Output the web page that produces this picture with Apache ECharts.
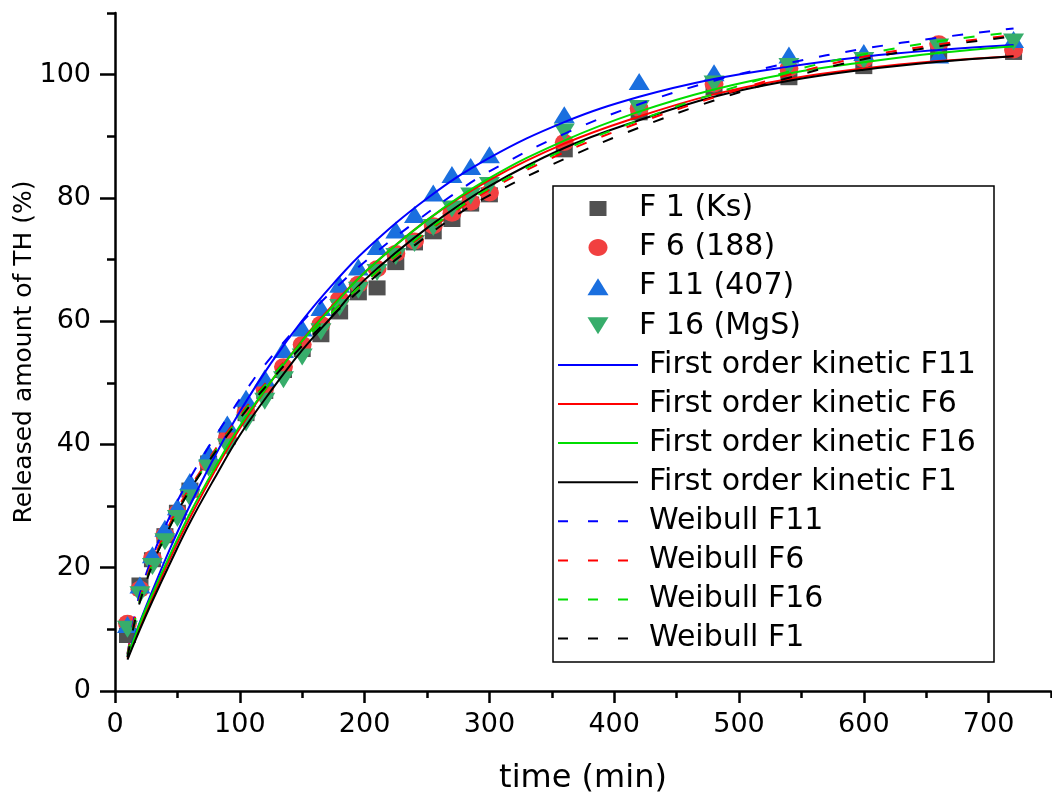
<!DOCTYPE html>
<html>
<head>
<meta charset="utf-8">
<script src="https://cdn.jsdelivr.net/npm/echarts@6/dist/echarts.min.js"></script>
<style>
  html, body { margin: 0; padding: 0; background: #fff; }
  #chart { width: 1052px; height: 797px; }
</style>
</head>
<body>
<div id="chart"></div>
<script>
// Sampling times of the release test (min)
const sampleTimes = [10, 20, 30, 40, 50, 60, 75, 90, 105, 120, 135, 150, 165, 180, 195, 210, 225, 240, 255, 270, 285, 300, 360, 420, 480, 540, 600, 660, 720];

// Measured release (%) per formulation
const f1Values  = [9.0, 17.2, 21.3, 25.2, 29.0, 32.6, 37.0, 41.2, 45.0, 48.6, 52.0, 55.4, 57.8, 61.5, 64.6, 65.4, 69.5, 72.7, 74.5, 76.5, 79.0, 80.5, 87.8, 93.8, 97.9, 99.5, 101.3, 103.6, 103.6];
const f6Values  = [11.0, 16.5, 21.5, 25.3, 28.9, 32.4, 37.0, 41.0, 45.1, 49.2, 52.6, 56.2, 59.5, 63.6, 66.0, 68.5, 71.0, 73.0, 75.5, 77.5, 79.3, 80.8, 89.0, 94.5, 98.5, 101.0, 102.5, 105.0, 104.0];
const f11Values = [10.8, 17.2, 22.1, 26.4, 29.9, 34.0, 38.6, 43.3, 47.5, 50.8, 55.4, 58.9, 62.2, 66.0, 68.8, 72.1, 74.8, 77.3, 80.8, 83.8, 85.1, 87.0, 93.5, 98.9, 100.3, 103.2, 103.6, 103.2, 105.7];
const f16Values = [10.0, 15.6, 20.2, 24.2, 28.0, 31.3, 36.2, 39.6, 43.5, 47.0, 50.5, 54.2, 58.3, 62.2, 65.0, 67.9, 70.5, 72.6, 75.2, 78.2, 80.3, 82.0, 90.7, 94.5, 98.5, 101.3, 102.3, 104.5, 105.3];

// Fitted first order kinetic curves
const firstOrderTimes = [10, 20, 30, 45, 60, 80, 100, 125, 150, 175, 200, 250, 300, 360, 420, 480, 540, 600, 660, 720];
const firstOrderF11 = [5.7, 11.2, 16.3, 23.5, 30.1, 38.1, 45.3, 53.2, 60.1, 66.1, 71.4, 79.9, 86.5, 92.3, 96.4, 99.3, 101.3, 102.9, 104.0, 104.8];
const firstOrderF6  = [5.3, 10.4, 15.2, 21.9, 28.1, 35.7, 42.6, 50.2, 56.9, 62.7, 67.9, 76.4, 82.9, 88.8, 93.2, 96.8, 99.3, 101.0, 102.2, 103.0];
const firstOrderF16 = [5.5, 11.0, 15.8, 22.5, 28.8, 36.2, 43.0, 50.2, 56.8, 62.5, 67.9, 76.4, 83.2, 89.3, 94.0, 97.6, 100.2, 102.0, 103.5, 104.6];
const firstOrderF1  = [5.1, 10.0, 14.6, 21.1, 27.3, 34.6, 41.5, 48.7, 55.3, 61.0, 66.7, 75.1, 81.9, 88.1, 92.6, 96.4, 99.0, 100.8, 102.1, 103.0];

// Fitted Weibull curves
const weibullTimes = [10, 15, 20, 30, 40, 50, 60, 75, 90, 105, 120, 150, 180, 210, 240, 270, 300, 360, 420, 480, 540, 600, 660, 720];
const weibullF11 = [6.0, 11.5, 15.8, 21.8, 26.6, 30.8, 34.5, 39.6, 44.3, 48.8, 52.9, 59.9, 66.0, 71.3, 76.0, 80.4, 84.3, 90.4, 95.2, 99.0, 101.9, 104.2, 106.0, 107.5];
const weibullF6  = [6.0, 11.0, 15.0, 21.0, 25.5, 29.5, 33.0, 37.6, 42.0, 46.0, 49.8, 56.6, 62.6, 68.0, 72.9, 77.4, 81.3, 87.4, 92.2, 96.3, 100.0, 102.9, 104.9, 106.4];
const weibullF16 = [5.8, 10.5, 14.8, 20.6, 25.0, 29.0, 32.6, 37.3, 41.7, 45.8, 49.6, 56.5, 62.6, 68.1, 73.1, 77.6, 81.6, 87.8, 92.6, 96.9, 100.5, 103.3, 105.4, 106.9];
const weibullF1  = [5.5, 10.5, 14.5, 20.5, 25.0, 29.0, 32.6, 37.2, 41.5, 45.5, 49.2, 56.0, 62.0, 67.5, 72.3, 76.7, 80.4, 86.3, 91.4, 95.8, 99.5, 102.5, 104.6, 106.2];

// Axis ticks
const xMajorTicks = [0, 100, 200, 300, 400, 500, 600, 700];
const xMinorTicks = [50, 150, 250, 350, 450, 550, 650, 750];
const yMajorTicks = [0, 20, 40, 60, 80, 100];
const yMinorTicks = [10, 30, 50, 70, 90, 110];

const FONT = 'DejaVu Sans';

const markerSeries = [
  { name: 'F 1 (Ks)',   values: f1Values,  symbol: 'rect',     rotate: 0,   size: [17, 15], color: '#515151' },
  { name: 'F 6 (188)',  values: f6Values,  symbol: 'circle',   rotate: 0,   size: [19, 17], color: '#F14040' },
  { name: 'F 11 (407)', values: f11Values, symbol: 'triangle', rotate: 0,   size: [21, 17], color: '#1A6FDF' },
  { name: 'F 16 (MgS)', values: f16Values, symbol: 'triangle', rotate: 180, size: [21, 17], color: '#37AD6B' }
];

const curveSeries = [
  { name: 'First order kinetic F11', times: firstOrderTimes, values: firstOrderF11, color: '#0000FF', dashed: false },
  { name: 'First order kinetic F6',  times: firstOrderTimes, values: firstOrderF6,  color: '#FF0000', dashed: false },
  { name: 'First order kinetic F16', times: firstOrderTimes, values: firstOrderF16, color: '#00DD00', dashed: false },
  { name: 'First order kinetic F1',  times: firstOrderTimes, values: firstOrderF1,  color: '#000000', dashed: false },
  { name: 'Weibull F11', times: weibullTimes, values: weibullF11, color: '#0000FF', dashed: true },
  { name: 'Weibull F6',  times: weibullTimes, values: weibullF6,  color: '#FF0000', dashed: true },
  { name: 'Weibull F16', times: weibullTimes, values: weibullF16, color: '#00DD00', dashed: true },
  { name: 'Weibull F1',  times: weibullTimes, values: weibullF1,  color: '#000000', dashed: true }
];

const series = [];
markerSeries.forEach(m => {
  series.push({
    type: 'scatter',
    name: m.name,
    xAxisIndex: 0,
    yAxisIndex: 0,
    symbol: m.symbol,
    symbolRotate: m.rotate,
    symbolSize: m.size,
    itemStyle: { color: m.color, opacity: 1 },
    z: 2,
    data: sampleTimes.map((t, i) => [t, m.values[i]])
  });
});
curveSeries.forEach(c => {
  series.push({
    type: 'line',
    name: c.name,
    xAxisIndex: 0,
    yAxisIndex: 0,
    smooth: 0.4,
    showSymbol: false,
    symbol: 'none',
    lineStyle: { color: c.color, width: 2, type: c.dashed ? [11, 16] : 'solid' },
    z: 3,
    data: c.times.map((t, i) => [t, c.values[i]])
  });
});

// Legend panel
const legendLeft = 553, legendTop = 186, legendWidth = 441, legendHeight = 476;
const rowTop = 208.5, rowStep = 39.1;
const legendGraphics = [{
  type: 'rect',
  shape: { x: legendLeft, y: legendTop, width: legendWidth, height: legendHeight },
  style: { fill: '#fff', stroke: '#000', lineWidth: 1.5 },
  z: 10
}];
markerSeries.forEach((m, i) => {
  const cy = rowTop + rowStep * i;
  const cx = 598;
  const w = m.size[0], h = m.size[1];
  let shape;
  if (m.symbol === 'rect') {
    shape = { type: 'rect', shape: { x: cx - w / 2, y: cy - h / 2, width: w, height: h } };
  } else if (m.symbol === 'circle') {
    shape = { type: 'ellipse', shape: { cx: cx, cy: cy, rx: w / 2, ry: h / 2 } };
  } else if (m.rotate === 0) {
    shape = { type: 'polygon', shape: { points: [[cx, cy - h / 2], [cx + w / 2, cy + h / 2], [cx - w / 2, cy + h / 2]] } };
  } else {
    shape = { type: 'polygon', shape: { points: [[cx - w / 2, cy - h / 2], [cx + w / 2, cy - h / 2], [cx, cy + h / 2]] } };
  }
  shape.style = { fill: m.color };
  shape.z = 11;
  legendGraphics.push(shape);
  legendGraphics.push({
    type: 'text', x: 639, y: cy, z: 11,
    style: { text: m.name, fontFamily: FONT, fontSize: 30, fill: '#000', verticalAlign: 'middle', align: 'left' }
  });
});
curveSeries.forEach((c, j) => {
  const cy = rowTop + rowStep * (markerSeries.length + j);
  legendGraphics.push({
    type: 'line', z: 11,
    shape: { x1: 558, y1: cy, x2: 638, y2: cy },
    style: { stroke: c.color, lineWidth: 2, lineDash: c.dashed ? [10, 20] : null }
  });
  legendGraphics.push({
    type: 'text', x: 649, y: cy, z: 11,
    style: { text: c.name, fontFamily: FONT, fontSize: 30, fill: '#000', verticalAlign: 'middle', align: 'left' }
  });
});

const axisLineStyle = { color: '#000', width: 2.5 };

const option = {
  backgroundColor: '#fff',
  animation: false,
  grid: { left: 115, right: 1, top: 13, bottom: 106, containLabel: false, outerBoundsMode: 'none' },
  xAxis: [{
    type: 'value',
    min: 0, max: 750,
    name: 'time (min)',
    nameLocation: 'middle',
    nameGap: 72,
    nameMoveOverlap: false,
    nameTextStyle: { fontFamily: FONT, fontSize: 32, fontWeight: 'normal', color: '#000' },
    axisLine: { show: true, onZero: false, lineStyle: axisLineStyle },
    axisTick: { show: true, length: 12, lineStyle: { color: '#000', width: 2.5 }, customValues: xMajorTicks },
    axisLabel: { show: true, margin: 20, fontFamily: FONT, fontSize: 27, color: '#000', customValues: xMajorTicks },
    splitLine: { show: false }
  }, {
    type: 'value',
    min: 0, max: 750,
    position: 'bottom',
    axisLine: { show: false },
    axisTick: { show: true, length: 7, lineStyle: { color: '#000', width: 2.5 }, customValues: xMinorTicks },
    axisLabel: { show: false },
    splitLine: { show: false }
  }],
  yAxis: [{
    type: 'value',
    min: 0, max: 110,
    name: 'Released amount of TH (%)',
    nameLocation: 'middle',
    nameGap: 78,
    nameMoveOverlap: false,
    nameTextStyle: { fontFamily: FONT, fontSize: 25, color: '#000' },
    axisLine: { show: true, onZero: false, lineStyle: axisLineStyle },
    axisTick: { show: true, length: 15, lineStyle: { color: '#000', width: 2.5 }, customValues: yMajorTicks },
    axisLabel: { show: true, margin: 24, fontFamily: FONT, fontSize: 27, color: '#000', customValues: yMajorTicks },
    splitLine: { show: false }
  }, {
    type: 'value',
    min: 0, max: 110,
    position: 'left',
    axisLine: { show: false },
    axisTick: { show: true, length: 8, lineStyle: { color: '#000', width: 2.5 }, customValues: yMinorTicks },
    axisLabel: { show: false },
    splitLine: { show: false }
  }],
  series: series,
  graphic: { elements: legendGraphics }
};

const chart = echarts.init(document.getElementById('chart'), null, { renderer: 'canvas' });
chart.setOption(option);
</script>
</body>
</html>
